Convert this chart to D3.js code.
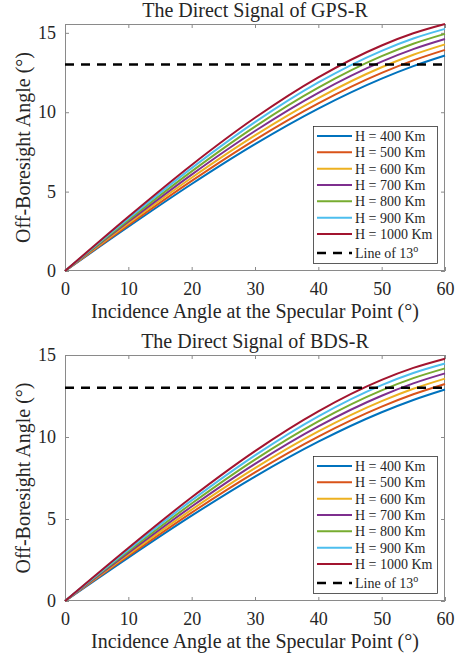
<!DOCTYPE html>
<html><head><meta charset="utf-8">
<script src="https://cdn.jsdelivr.net/npm/d3@7"></script>
<style>
body{margin:0;background:#fff}
svg{display:block}
text{font-family:"Liberation Serif","Times New Roman",serif;fill:#262626}
</style>
</head><body>
<svg id="chart" width="463" height="660"></svg>
<script>
// ---- data ----
const incidence = [0, 10, 20, 30, 40, 50, 55, 60];
const heightLabels = ["H = 400 Km","H = 500 Km","H = 600 Km","H = 700 Km","H = 800 Km","H = 900 Km","H = 1000 Km"];
const seriesColors = ["#0072BD","#D95319","#EDB120","#7E2F8E","#77AC30","#4DBEEE","#A2142F"];

const gps400  = [0, 2.787, 5.480, 7.989, 10.227, 12.114, 12.902, 13.573];
const gps500  = [0, 2.890, 5.677, 8.265, 10.560, 12.477, 13.267, 13.930];
const gps600  = [0, 2.993, 5.875, 8.541, 10.891, 12.833, 13.623, 14.275];
const gps700  = [0, 3.097, 6.074, 8.817, 11.220, 13.184, 13.971, 14.609];
const gps800  = [0, 3.202, 6.275, 9.094, 11.547, 13.529, 14.311, 14.934];
const gps900  = [0, 3.308, 6.477, 9.372, 11.873, 13.869, 14.644, 15.249];
const gps1000 = [0, 3.416, 6.680, 9.649, 12.197, 14.205, 14.971, 15.557];

const bds400  = [0, 2.647, 5.204, 7.587, 9.714, 11.509, 12.259, 12.898];
const bds500  = [0, 2.742, 5.389, 7.846, 10.027, 11.851, 12.604, 13.235];
const bds600  = [0, 2.839, 5.574, 8.105, 10.338, 12.187, 12.940, 13.562];
const bds700  = [0, 2.936, 5.760, 8.364, 10.648, 12.517, 13.268, 13.878];
const bds800  = [0, 3.034, 5.947, 8.623, 10.955, 12.843, 13.589, 14.185];
const bds900  = [0, 3.133, 6.136, 8.883, 11.261, 13.164, 13.904, 14.484];
const bds1000 = [0, 3.233, 6.325, 9.143, 11.565, 13.480, 14.212, 14.775];

const thresholdValue = 13;
const xTicks = [0, 10, 20, 30, 40, 50, 60];
const yTicks = [0, 5, 10, 15];
const titles = ["The Direct Signal of GPS-R", "The Direct Signal of BDS-R"];
const xLabel = "Incidence Angle at the Specular Point (°)";
const yLabel = "Off-Boresight Angle (°)";

// ---- drawing ----
const svg = d3.select("#chart");
const left = 65, right = 445;
const FONT = "Liberation Serif";

function drawPanel(top, bottom, title, series, yMax) {
  const g = svg.append("g");
  const x = d3.scaleLinear().domain([0, 60]).range([left, right]);
  const y = d3.scaleLinear().domain([0, yMax]).range([bottom, top]);

  // frame
  g.append("rect").attr("x", left + 0.5).attr("y", top + 0.5)
    .attr("width", right - left - 1).attr("height", bottom - top - 1)
    .attr("fill", "none").attr("stroke", "#8a8a8a").attr("stroke-width", 1);

  const styleAxis = sel => {
    sel.attr("font-family", FONT).attr("font-size", 18).attr("color", "#262626");
    sel.select(".domain").remove();
    sel.selectAll(".tick line").attr("stroke", "#8a8a8a");
  };
  g.append("g").attr("transform", `translate(0,${bottom})`)
    .call(d3.axisBottom(x).tickValues(xTicks).tickSizeInner(-4).tickSizeOuter(0).tickPadding(11))
    .call(styleAxis);
  g.append("g").attr("transform", `translate(0,${top})`)
    .call(d3.axisTop(x).tickValues(xTicks).tickSizeInner(-4).tickSizeOuter(0).tickFormat(""))
    .call(styleAxis);
  g.append("g").attr("transform", `translate(${left},0)`)
    .call(d3.axisLeft(y).tickValues(yTicks).tickSizeInner(-4).tickSizeOuter(0).tickPadding(9))
    .call(styleAxis);
  g.append("g").attr("transform", `translate(${right},0)`)
    .call(d3.axisRight(y).tickValues(yTicks).tickSizeInner(-4).tickSizeOuter(0).tickFormat(""))
    .call(styleAxis);

  // curves
  const line = d3.line().x((d, i) => x(incidence[i])).y(d => y(d)).curve(d3.curveMonotoneX);
  series.forEach((s, i) => {
    g.append("path").datum(s).attr("d", line).attr("fill", "none")
      .attr("stroke", seriesColors[i]).attr("stroke-width", 2);
  });
  // threshold line
  g.append("line").attr("x1", x(0)).attr("x2", x(60))
    .attr("y1", y(thresholdValue)).attr("y2", y(thresholdValue))
    .attr("stroke", "#000").attr("stroke-width", 2.5).attr("stroke-dasharray", "9,7");

  // title and labels
  g.append("text").attr("x", (left + right) / 2).attr("y", top - 7)
    .attr("text-anchor", "middle").attr("font-size", 20).text(title);
  g.append("text").attr("x", (left + right) / 2).attr("y", bottom + 47)
    .attr("text-anchor", "middle").attr("font-size", 20).text(xLabel);
  g.append("text").attr("transform", `translate(30,${(top + bottom) / 2}) rotate(-90)`)
    .attr("text-anchor", "middle").attr("font-size", 20).text(yLabel);

  // legend
  const lg = g.append("g");
  const boxTop = bottom - 145, boxBottom = bottom - 8;
  lg.append("rect").attr("x", 313.5).attr("y", boxTop + 0.5).attr("width", 124).attr("height", boxBottom - boxTop)
    .attr("fill", "#fff").attr("stroke", "#262626").attr("stroke-width", 0.75);
  heightLabels.forEach((lab, i) => {
    const cy = bottom - 135 + i * 16.33;
    lg.append("line").attr("x1", 317).attr("x2", 352).attr("y1", cy).attr("y2", cy)
      .attr("stroke", seriesColors[i]).attr("stroke-width", 2);
    lg.append("text").attr("x", 355).attr("y", cy + 5).attr("font-size", 14).text(lab);
  });
  const ly = bottom - 18;
  lg.append("line").attr("x1", 317).attr("x2", 352).attr("y1", ly).attr("y2", ly)
    .attr("stroke", "#000").attr("stroke-width", 2.5).attr("stroke-dasharray", "9,7");
  const lt = lg.append("text").attr("x", 355).attr("y", ly + 5).attr("font-size", 14);
  lt.append("tspan").text("Line of 13");
  lt.append("tspan").attr("dy", -6).attr("font-size", 10).text("o");
}

const gpsSeries = [gps400, gps500, gps600, gps700, gps800, gps900, gps1000];
const bdsSeries = [bds400, bds500, bds600, bds700, bds800, bds900, bds1000];
drawPanel(24, 271, titles[0], gpsSeries, d3.max(gpsSeries.flat()));
drawPanel(355, 601, titles[1], bdsSeries, 15);
</script>
</body></html>
